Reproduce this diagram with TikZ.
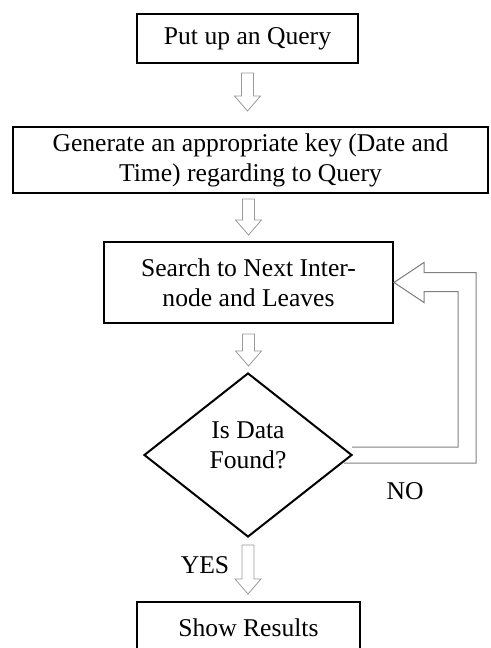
\documentclass[tikz,border=0pt]{standalone}
\usepackage{fontspec}
\setmainfont{Liberation Serif}
\usetikzlibrary{shapes.geometric,calc}

\tikzset{
  box/.style={draw, line width=1.5pt, inner sep=0pt, align=center,
    font=\fontsize{19.2}{22.5}\selectfont},
  decision/.style={diamond, draw, line width=1.5pt, inner sep=0pt},
  hollow/.style={draw=gray!80, fill=white, line width=0.6pt},
  loopline/.style={draw=gray, line width=0.75pt, line join=miter},
  tag/.style={font=\fontsize{19.2}{22.5}\selectfont}
}

% hollow block arrow pointing down: start coordinate, length
\newcommand{\hollowdown}[2]{%
  \draw[hollow] (#1) ++(-6,0) -- ++(12,0) -- ++(0,#2-15) -- ++(7,0)
    -- ++(-13,15) -- ++(-13,-15) -- ++(7,0) -- cycle;}

\begin{document}
\begin{tikzpicture}[x=0.75pt,y=-0.75pt]
\useasboundingbox (0,0) rectangle (490,648);

\node[box, minimum width=165.75pt, minimum height=36.75pt] (query) at (247.5,38.5) {Put up an Query};
\node[box, minimum width=356.25pt, minimum height=49.5pt] (key) at (250.5,160) {Generate an appropriate key (Date and\\Time) regarding to Query};
\node[box, minimum width=216.75pt, minimum height=60.75pt] (search) at (248.5,282.5) {Search to Next Inter-\\node and Leaves};
\node[decision, minimum width=156pt, minimum height=123pt,
  label={[tag, align=center, yshift=7pt]center:Is Data\\Found?}] (found) at (248,455) {};
\node[box, minimum width=167.25pt, minimum height=39pt] (result) at (248.5,628) {Show Results};

\coordinate (a1) at ($(query.south)+(0,9)$);
\coordinate (a2) at ($(key.south)+(-2,5)$);
\coordinate (a3) at ($(search.south)+(0,10)$);
\coordinate (a4) at ($(found.south)+(0,7)$);
\hollowdown{a1}{38}
\hollowdown{a2}{36}
\hollowdown{a3}{32}
\hollowdown{a4}{49}

% feedback arrow back to the search box
\draw[loopline] ($(found.east)+(-9,8)$) -| ($(search.east)+(82,-10)$) -- ++(-52,0) -- ++(0,-10)
  -- (search.east) -- ++(30,20) -- ++(0,-11) -- ++(34,0) |- ($(found.east)+(-1,-8)$);

\node[tag] (no) at (405,491) {NO};
\node[tag] (yes) at (205,565) {YES};

\end{tikzpicture}
\end{document}
